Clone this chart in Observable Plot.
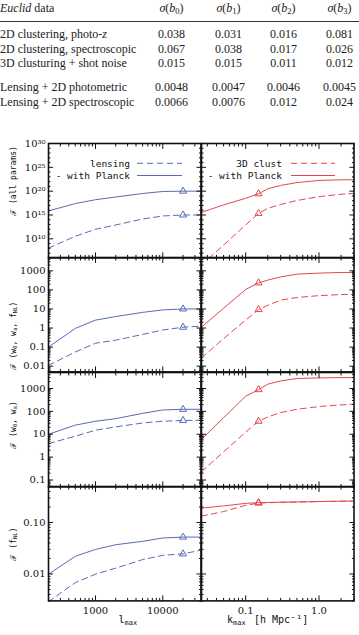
<!DOCTYPE html>
<html>
<head>
<meta charset="utf-8">
<script src="https://cdn.jsdelivr.net/npm/d3@7"></script>
<script src="https://cdn.jsdelivr.net/npm/@observablehq/plot@0.6"></script>
<style>
  body { margin: 0; background: #fff; }
  #fig { position: relative; width: 359px; height: 635px; overflow: hidden; background: #fff; }
  .tbl { position: absolute; font-family: "Liberation Serif", "DejaVu Serif", serif; font-size: 12px; color: #222; white-space: nowrap; line-height: 1; }
  .tbl sub { font-size: 8.5px; vertical-align: -2px; line-height: 0; }
  .rule { position: absolute; left: 0; width: 359px; border-top: 1px solid #333; }
</style>
</head>
<body>
<div id="fig"></div>
<script>
// ---------- table: bias uncertainties ----------
const biasIndex = ["0", "1", "2", "3"];
const surveyRows = [
  "2D clustering, photo-z",
  "2D clustering, spectroscopic",
  "3D clusturing + shot noise",
  "Lensing + 2D photometric",
  "Lensing + 2D spectroscopic"
];
const sigmaB0 = [0.038, 0.067, 0.015, 0.0048, 0.0066];
const sigmaB1 = [0.031, 0.038, 0.015, 0.0047, 0.0076];
const sigmaB2 = [0.016, 0.017, 0.011, 0.0046, 0.012];
const sigmaB3 = [0.081, 0.026, 0.012, 0.0045, 0.024];

// ---------- Fisher figures of merit vs. cut-off scale ----------
const lMax = [200, 500, 1000, 2000, 5000, 10000, 20000, 37000];
const kMax = [0.025, 0.05, 0.1, 0.15, 0.2, 0.3, 0.5, 1, 2, 3];

// weak lensing (dashed) and lensing with Planck prior (solid)
const lensAll        = [1.1e8, 3.5e10, 1e12, 8e12, 1.4e14, 6.3e14, 1e15, 1e15];
const lensAllPlanck  = [7.1e15, 2.5e17, 1.6e18, 6e18, 3.2e19, 8.5e19, 1e20, 1e20];
const lensDE         = [0.011, 0.055, 0.16, 0.23, 0.46, 0.79, 1.1, 1.25];
const lensDEPlanck   = [0.1, 0.95, 2.6, 4.0, 6.6, 8.9, 10, 10];
const lensW          = [3.9, 8.2, 15, 21, 31, 37, 40, 41];
const lensWPlanck    = [10, 25, 37, 48, 82, 115, 123, 123];
const lensFnl        = [0.0029, 0.0068, 0.0099, 0.013, 0.019, 0.023, 0.0246, 0.029];
const lensFnlPlanck  = [0.0099, 0.022, 0.030, 0.037, 0.043, 0.050, 0.052, 0.052];

// 3D clustering (dashed) and clustering with Planck prior (solid)
const clustAll       = [3.2e4, 5e8, 7.9e12, 2.2e15, 2.5e16, 1.6e17, 1.1e18, 7.1e18, 2.2e19, 3.5e19];
const clustAllPlanck = [3.6e15, 1.3e17, 3.2e18, 2.8e19, 3.2e20, 1.6e21, 6.3e21, 1.8e22, 2.4e22, 2.5e22];
const clustDE        = [0.027, 0.28, 2.6, 9.3, 15.5, 29, 40, 50, 57, 58];
const clustDEPlanck  = [1.1, 11, 105, 234, 325, 480, 670, 760, 820, 820];
const clustW         = [0.23, 1.7, 12.3, 37, 57, 89, 123, 163, 192, 207];
const clustWPlanck   = [5.9, 53, 460, 890, 1540, 2140, 2730, 2900, 3000, 3000];
const clustFnl       = [0.133, 0.163, 0.215, 0.238, 0.242, 0.246, 0.25, 0.255, 0.258, 0.26];
const clustFnlPlanck = [0.19, 0.21, 0.235, 0.243, 0.245, 0.248, 0.25, 0.255, 0.26, 0.26];

// fiducial cut-offs marked with triangles
const lMarker = 20000;
const kMarker = 0.15;

// axis ranges and ticks
const lDomain = [200, 37000];
const kDomain = [0.025, 3];
const lTicks = [1000, 10000];
const kTicks = [0.1, 1];
const yDomains = [[1e6, 1e30], [0.005, 5000], [0.05, 5000], [0.003, 0.5]];
const yTicks = [
  [1e10, 1e15, 1e20, 1e25, 1e30],
  [0.01, 0.1, 1, 10, 100, 1000],
  [0.1, 1, 10, 100, 1000],
  [0.01, 0.1]
];

// ---------- layout ----------
const fig = document.getElementById("fig");
const colX = [48, 200.5], colW = 152.5;
const rowY = [143, 257.4, 371.8, 486.2], rowH = 114.4;
const blue = "#5a69b4", red = "#e2474f", ink = "#111";

// table
function place(html, x, y, centred) {
  const el = document.createElement("div");
  el.className = "tbl";
  el.innerHTML = html;
  el.style.left = x + "px";
  el.style.top = y + "px";
  el.style.transform = centred ? "translate(-50%,-50%)" : "translate(0,-50%)";
  fig.appendChild(el);
}
const colCentres = [171.5, 228.5, 283.5, 339.5];
const rowCentres = [34.3, 49, 63.3, 87.3, 101.7];
place("<i>Euclid</i> data", 0, 7.5, false);
biasIndex.forEach((b, j) => place(`<i>σ</i>(<i>b</i><sub>${b}</sub>)`, colCentres[j], 7.5, true));
const rule = document.createElement("div");
rule.className = "rule";
rule.style.top = "20.5px";
fig.appendChild(rule);
const sigmaCols = [sigmaB0, sigmaB1, sigmaB2, sigmaB3];
surveyRows.forEach((name, i) => {
  place(name.replace(/photo-z$/, "photo-<i>z</i>"), 0, rowCentres[i], false);
  sigmaCols.forEach((col, j) => place(String(col[i]), colCentres[j], rowCentres[i], true));
});

// log-scale minor ticks (2..9 in every decade) inside a domain
function minorTicks([lo, hi], skip = 1) {
  const out = [];
  for (let e = Math.floor(Math.log10(lo)); e <= Math.ceil(Math.log10(hi)); e++) {
    if (skip > 1) {
      if (e % skip !== 0) out.push(10 ** e);
      continue;
    }
    for (let m = 2; m <= 9; m++) out.push(m * 10 ** e);
  }
  return out.filter(v => v >= lo * 0.9999 && v <= hi * 1.0001);
}

const sup = s => s.replace(/\d/g, c => "⁰¹²³⁴⁵⁶⁷⁸⁹"[+c]);
const yFormats = [
  d => "10" + sup(String(Math.round(Math.log10(d)))),
  d => String(d),
  d => String(d),
  d => d3.format(".2f")(d)
];

function panel(col, row, xs, dashed, solid) {
  const mL = col === 0 ? 48 : 2, mR = 2, mT = 2, mB = row === 3 ? 36 : 2;
  const color = col === 0 ? blue : red;
  const xDomain = col === 0 ? lDomain : kDomain;
  const xMajor = col === 0 ? lTicks : kTicks;
  const xMinor = minorTicks(xDomain);
  const xFormat = col === 0 ? (d => String(d)) : d3.format(".1f");
  const markerX = col === 0 ? lMarker : kMarker;
  const yDomain = yDomains[row];
  const yMajor = yTicks[row];
  const yMinor = row === 0 ? minorTicks(yDomain, 5) : minorTicks(yDomain);
  const toRows = vals => xs.map((x, i) => ({x, y: vals[i]}));
  const dashedData = toRows(dashed), solidData = toRows(solid);
  const markers = [...dashedData, ...solidData].filter(d => d.x === markerX);
  const showY = col === 0, showX = row === 3;

  const svg = Plot.plot({
    width: mL + colW + mR,
    height: mT + rowH + mB,
    marginLeft: mL, marginRight: mR, marginTop: mT, marginBottom: mB,
    x: {type: "log", domain: xDomain},
    y: {type: "log", domain: yDomain},
    style: {background: "transparent", overflow: "visible", fontFamily: "'DejaVu Serif', serif", fontSize: "10px", color: ink},
    marks: [
      Plot.line(dashedData, {x: "x", y: "y", stroke: color, strokeWidth: 1, strokeDasharray: "6,4", clip: true}),
      Plot.line(solidData, {x: "x", y: "y", stroke: color, strokeWidth: 1, clip: true}),
      Plot.dot(markers, {x: "x", y: "y", symbol: "triangle", r: 2.6, stroke: color, fill: "none", strokeWidth: 1}),
      Plot.axisY(yMajor, {anchor: "left", tickSize: -5, tickPadding: 8, tickFormat: yFormats[row], label: null, stroke: ink, fill: showY ? ink : "none"}),
      Plot.axisY(yMinor, {anchor: "left", tickSize: -2.5, label: null, stroke: ink, fill: "none"}),
      Plot.axisY(yMajor, {anchor: "right", tickSize: -5, label: null, stroke: ink, fill: "none"}),
      Plot.axisY(yMinor, {anchor: "right", tickSize: -2.5, label: null, stroke: ink, fill: "none"}),
      Plot.axisX(xMajor, {anchor: "bottom", tickSize: -5, tickPadding: 11, tickFormat: xFormat, label: null, stroke: ink, fill: showX ? ink : "none"}),
      Plot.axisX(xMinor, {anchor: "bottom", tickSize: -2.5, label: null, stroke: ink, fill: "none"}),
      Plot.axisX(xMajor, {anchor: "top", tickSize: -5, label: null, stroke: ink, fill: "none"}),
      Plot.axisX(xMinor, {anchor: "top", tickSize: -2.5, label: null, stroke: ink, fill: "none"}),
      Plot.frame({stroke: ink, strokeWidth: 1.6})
    ]
  });
  svg.style.position = "absolute";
  svg.style.left = (colX[col] - mL) + "px";
  svg.style.top = (rowY[row] - mT) + "px";
  fig.appendChild(svg);
}

panel(0, 0, lMax, lensAll, lensAllPlanck);
panel(1, 0, kMax, clustAll, clustAllPlanck);
panel(0, 1, lMax, lensDE, lensDEPlanck);
panel(1, 1, kMax, clustDE, clustDEPlanck);
panel(0, 2, lMax, lensW, lensWPlanck);
panel(1, 2, kMax, clustW, clustWPlanck);
panel(0, 3, lMax, lensFnl, lensFnlPlanck);
panel(1, 3, kMax, clustFnl, clustFnlPlanck);

// ---------- legends and axis titles ----------
const overlay = d3.create("svg")
  .attr("width", 359).attr("height", 635)
  .style("position", "absolute").style("left", "0").style("top", "0")
  .style("pointer-events", "none");
const mono = "'DejaVu Sans Mono', 'Liberation Mono', monospace";

function legend(textEnd, lineX0, lineX1, color, names) {
  names.forEach((name, i) => {
    const y = 163.3 + i * 12.2;
    overlay.append("text").attr("x", textEnd).attr("y", y)
      .attr("text-anchor", "end").attr("dominant-baseline", "central")
      .attr("font-family", mono).attr("font-size", 9.5).attr("fill", ink).text(name);
    overlay.append("line").attr("x1", lineX0).attr("x2", lineX1).attr("y1", y).attr("y2", y)
      .attr("stroke", color).attr("stroke-width", 1)
      .attr("stroke-dasharray", i === 0 ? "6,4" : null);
  });
}
legend(130, 137, 182, blue, ["lensing", "- with Planck"]);
legend(282, 291, 335, red, ["3D clust", "- with Planck"]);

function richText(sel, parts, size) {
  let shift = 0;
  parts.forEach(p => {
    const sub = typeof p !== "string";
    const target = sub ? size * 0.25 : 0;
    sel.append("tspan")
      .attr("dy", target - shift)
      .attr("font-size", sub ? size * 0.7 : size)
      .text(sub ? p.sub : p);
    shift = target;
  });
}

const yTitles = [
  {cy: 181, parts: ["ℱ (all params)"]},
  {cy: 336, parts: ["ℱ (w", {sub: "0"}, ", w", {sub: "a"}, ", f", {sub: "NL"}, ")"]},
  {cy: 425, parts: ["ℱ (w", {sub: "0"}, ", w", {sub: "a"}, ")"]},
  {cy: 544, parts: ["ℱ (f", {sub: "NL"}, ")"]}
];
yTitles.forEach(({cy, parts}) => {
  const t = overlay.append("text")
    .attr("transform", `translate(13,${cy}) rotate(-90)`)
    .attr("text-anchor", "middle").attr("dominant-baseline", "central")
    .attr("font-family", mono).attr("fill", ink);
  richText(t, parts, 8);
});

const lTitle = overlay.append("text").attr("x", 118.5).attr("y", 622.5)
  .attr("font-family", mono).attr("fill", ink);
richText(lTitle, ["l", {sub: "max"}], 10);
const kTitle = overlay.append("text").attr("x", 227).attr("y", 622.5)
  .attr("font-family", mono).attr("fill", ink);
richText(kTitle, ["k", {sub: "max"}], 10);
overlay.append("text").attr("x", 254).attr("y", 622.5)
  .attr("font-family", mono).attr("font-size", 10).attr("fill", ink)
  .text("[h Mpc⁻¹]");

fig.appendChild(overlay.node());
</script>
</body>
</html>
